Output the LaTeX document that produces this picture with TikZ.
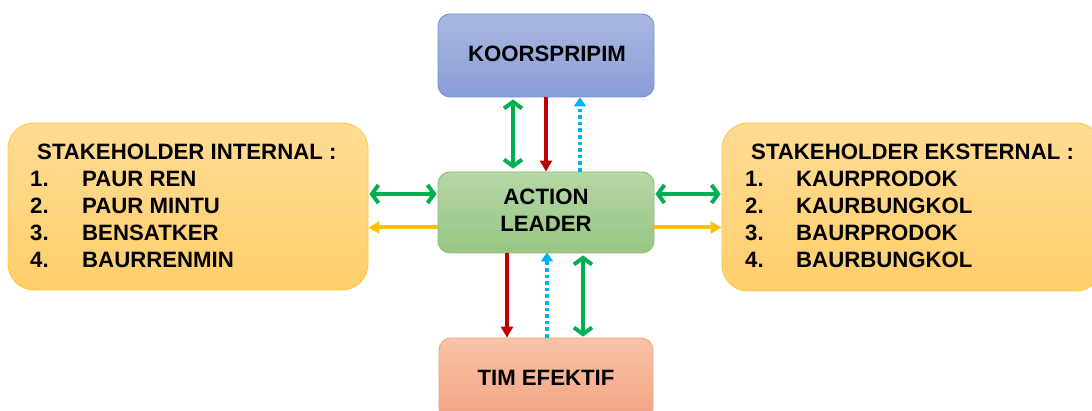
\documentclass[tikz,border=0pt]{standalone}
\usepackage{fontspec}
\setmainfont{Liberation Sans}
\usetikzlibrary{arrows.meta}
\definecolor{gArrow}{HTML}{00B050}
\definecolor{rArrow}{HTML}{C00000}
\definecolor{bArrow}{HTML}{00B0F0}
\definecolor{yArrow}{HTML}{FFC000}
\definecolor{blueTop}{HTML}{AAB9E1}
\definecolor{blueBot}{HTML}{899DD7}
\definecolor{blueLine}{HTML}{7892D0}
\definecolor{greenTop}{HTML}{B6D7A6}
\definecolor{greenBot}{HTML}{97C583}
\definecolor{greenLine}{HTML}{8CBE74}
\definecolor{orangeTop}{HTML}{F8C3A8}
\definecolor{orangeBot}{HTML}{F3A381}
\definecolor{orangeLine}{HTML}{F2A47E}
\definecolor{yellowTop}{HTML}{FFDC94}
\definecolor{yellowBot}{HTML}{FFCE6C}
\definecolor{yellowLine}{HTML}{FFC840}
\tikzset{
  box/.style={draw, line width=0.9pt, rounded corners=12pt, inner sep=0pt},
  bluebox/.style={box, draw=blueLine, top color=blueTop, bottom color=blueBot},
  greenbox/.style={box, draw=greenLine, top color=greenTop, bottom color=greenBot},
  orangebox/.style={box, draw=orangeLine, top color=orangeTop, bottom color=orangeBot},
  yellowbox/.style={box, rounded corners=26pt, draw=yellowLine, top color=yellowTop, bottom color=yellowBot},
  lbl/.style={font=\bfseries\fontsize{22.2}{27}\selectfont, inner sep=0pt},
  item/.style={font=\bfseries\fontsize{22.2}{27}\selectfont, inner sep=0pt, anchor=base west},
  garrow/.style={draw=gArrow, line width=4pt, {Straight Barb[length=6.5pt,width=18pt]}-{Straight Barb[length=6.5pt,width=18pt]}},
  rarrow/.style={draw=rArrow, line width=4pt, -{Triangle[length=11pt,width=12pt]}},
  barrow/.style={draw=bArrow, line width=4pt, dash pattern=on 3.6pt off 3pt, -{Triangle[length=9pt,width=12pt]}},
  yarrow/.style={draw=yArrow, line width=4pt, -{Triangle[length=11pt,width=12pt]}},
}
\begin{document}
\begin{tikzpicture}[x=1pt,y=-1pt]
\useasboundingbox (0,0) rectangle (1092,411);
\fill[white] (0,0) rectangle (1092,411);
\clip (0,0) rectangle (1092,411);

% central boxes
\node[bluebox, minimum width=216pt, minimum height=83pt] (kor) at (546,55.5) {};
\node[lbl, anchor=base] (korT) at (547,62) {KOORSPRIPIM};
\node[greenbox, minimum width=216pt, minimum height=81pt] (al) at (546,212.5) {};
\node[lbl, anchor=base] (alT1) at (546,205) {ACTION};
\node[lbl, anchor=base] (alT2) at (546,232) {LEADER};
\node[orangebox, minimum width=214pt, minimum height=83pt] (tim) at (546,379.5) {};
\node[lbl, anchor=base] (timT) at (546,385) {TIM EFEKTIF};

% stakeholder boxes
\node[yellowbox, minimum width=360pt, minimum height=167pt] (int) at (188,206.5) {};
\node[yellowbox, minimum width=380pt, minimum height=168pt] (ext) at (912,207) {};

% internal list
\node[item] (iH) at (37,160) {STAKEHOLDER INTERNAL :};
\node[item] (i1n) at (30,187) {1.};
\node[item] (i1) at (82,187) {PAUR REN};
\node[item] (i2n) at (30,214) {2.};
\node[item] (i2) at (82,214) {PAUR MINTU};
\node[item] (i3n) at (30,241) {3.};
\node[item] (i3) at (82,241) {BENSATKER};
\node[item] (i4n) at (30,268) {4.};
\node[item] (i4) at (82,268) {BAURRENMIN};

% external list
\node[item] (eH) at (751,160) {STAKEHOLDER EKSTERNAL :};
\node[item] (e1n) at (745,187) {1.};
\node[item] (e1) at (796,187) {KAURPRODOK};
\node[item] (e2n) at (745,214) {2.};
\node[item] (e2) at (796,214) {KAURBUNGKOL};
\node[item] (e3n) at (745,241) {3.};
\node[item] (e3) at (796,241) {BAURPRODOK};
\node[item] (e4n) at (745,268) {4.};
\node[item] (e4) at (796,268) {BAURBUNGKOL};

% connector tracks
\coordinate (xa) at (513,0);
\coordinate (xb) at (546,0);
\coordinate (xc) at (580,0);
\coordinate (xd) at (507,0);
\coordinate (xe) at (547,0);
\coordinate (xf) at (583,0);
\coordinate (ya) at (0,194);
\coordinate (yb) at (0,227.5);

% top links
\draw[garrow, shorten <=2pt, shorten >=3pt] (kor.south -| xa) -- (al.north -| xa);
\draw[rarrow] (kor.south -| xb) -- (al.north -| xb);
\draw[barrow] (al.north -| xc) -- (kor.south -| xc);

% bottom links
\draw[rarrow] (al.south -| xd) -- (tim.north -| xd);
\draw[barrow] (tim.north -| xe) -- ([yshift=1pt]al.south -| xe);
\draw[garrow, shorten <=2pt, shorten >=1pt] (al.south -| xf) -- (tim.north -| xf);

% side links
\draw[garrow, shorten <=1pt, shorten >=1pt] (int.east |- ya) -- (al.west |- ya);
\draw[yarrow] (al.west |- yb) -- (int.east |- yb);
\draw[garrow, shorten <=1pt, shorten >=1pt] (al.east |- ya) -- (ext.west |- ya);
\draw[yarrow] (al.east |- yb) -- (ext.west |- yb);
\end{tikzpicture}
\end{document}
